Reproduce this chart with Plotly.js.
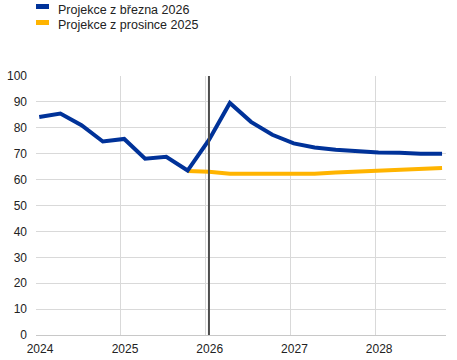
<!DOCTYPE html>
<html>
<head>
<meta charset="utf-8">
<script src="https://cdn.plot.ly/plotly-3.0.1.min.js"></script>
<style>html,body{margin:0;padding:0;background:#fff;}#chart{width:457px;height:360px;}</style>
</head>
<body>
<div id="chart"></div>
<script>
var quarters = ['2024-01-15','2024-04-15','2024-07-15','2024-10-15',
                '2025-01-15','2025-04-15','2025-07-15','2025-10-15',
                '2026-01-15','2026-04-15','2026-07-15','2026-10-15',
                '2027-01-15','2027-04-15','2027-07-15','2027-10-15',
                '2028-01-15','2028-04-15','2028-07-15','2028-10-15'];
var march2026 = [84.2, 85.5, 81.0, 74.7, 75.7, 68.1, 68.8, 63.5,
                 75.3, 89.6, 82.3, 77.3, 74.0, 72.4, 71.5, 70.9,
                 70.5, 70.4, 70.0, 70.0];
var decQuarters = quarters.slice(7);
var dec2025 = [63.3, 63.0, 62.3, 62.3, 62.3, 62.3, 62.3, 62.7, 63.1, 63.5, 63.8, 64.2, 64.5];
var seriesNames = ['Projekce z března 2026', 'Projekce z prosince 2025'];
var colors = ['#003299', '#FFB400'];
var markerDate = '2026-01-15';
var yearTicks = ['2024-01-01','2025-01-01','2026-01-01','2027-01-01','2028-01-01'];
var yearLabels = ['2024','2025','2026','2027','2028'];

var traces = [
  {x: decQuarters, y: dec2025, type: 'scatter', mode: 'lines', name: seriesNames[1],
   line: {color: colors[1], width: 4}},
  {x: quarters, y: march2026, type: 'scatter', mode: 'lines', name: seriesNames[0],
   line: {color: colors[0], width: 4}}
];

var font = {family: '"Liberation Sans", Arial, sans-serif', size: 12, color: '#222'};
var legFont = {family: '"Liberation Sans", Arial, sans-serif', size: 12.5, color: '#222'};

var layout = {
  width: 457, height: 360,
  margin: {l: 36, r: 11, t: 76, b: 25},
  paper_bgcolor: '#fff', plot_bgcolor: '#fff',
  showlegend: false,
  font: font,
  xaxis: {
    type: 'date',
    range: ['2024-01-01', '2028-11-01'],
    tickmode: 'array', tickvals: yearTicks, ticktext: yearLabels,
    showgrid: true, gridcolor: '#d9d9d9', gridwidth: 1,
    showline: true, linecolor: '#c8c8c8', linewidth: 1,
    ticks: '', zeroline: false, ticklabelshift: 4, ticklabelstandoff: 3,
    tickfont: font, fixedrange: true
  },
  yaxis: {
    range: [0, 100], dtick: 10, tick0: 0,
    showgrid: true, gridcolor: '#d9d9d9', gridwidth: 1,
    zeroline: false, showline: false, ticks: '',
    ticklabelstandoff: 8,
    tickfont: font, fixedrange: true
  },
  shapes: [
    {type: 'line', xref: 'x', yref: 'paper', x0: markerDate, x1: markerDate, y0: 0, y1: 1,
     line: {color: '#4d4d4d', width: 2}},
    {type: 'rect', xref: 'paper', yref: 'paper', x0: 0, x1: 13/410, y0: 1 + (76-9)/259, y1: 1 + (76-4)/259,
     fillcolor: colors[0], line: {width: 0}},
    {type: 'rect', xref: 'paper', yref: 'paper', x0: 0, x1: 13/410, y0: 1 + (76-25)/259, y1: 1 + (76-20)/259,
     fillcolor: colors[1], line: {width: 0}}
  ],
  annotations: [
    {xref: 'paper', yref: 'paper', x: 20/410, y: 1 + (76-10)/259, xanchor: 'left', yanchor: 'middle',
     text: seriesNames[0], showarrow: false, font: legFont},
    {xref: 'paper', yref: 'paper', x: 20/410, y: 1 + (76-25)/259, xanchor: 'left', yanchor: 'middle',
     text: seriesNames[1], showarrow: false, font: legFont}
  ]
};

Plotly.newPlot('chart', traces, layout, {displayModeBar: false, staticPlot: true});
</script>
</body>
</html>
